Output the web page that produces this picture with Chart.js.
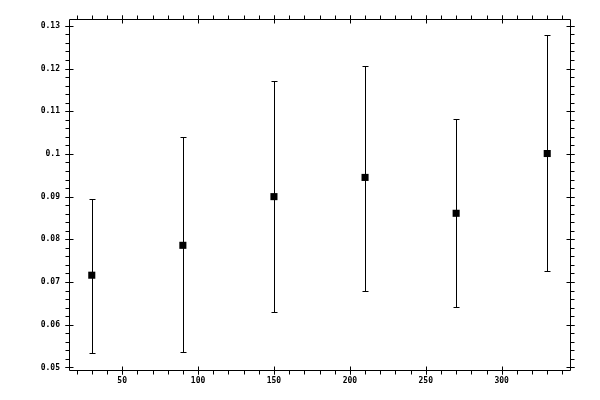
<!DOCTYPE html>
<html><head><meta charset="utf-8">
<script src="https://cdn.jsdelivr.net/npm/chart.js@4"></script>
<style>html,body{margin:0;padding:0;background:#fff}canvas{display:block}</style>
</head><body>
<canvas id="c" width="600" height="400"></canvas>
<script>
const xValues = [30, 90, 150, 210, 270, 330];
const yMeans = [0.0716, 0.0786, 0.0900, 0.0945, 0.0861, 0.1001];
const yLows = [0.0533, 0.0535, 0.0629, 0.0680, 0.0641, 0.0727];
const yHighs = [0.0895, 0.1039, 0.1171, 0.1206, 0.1082, 0.1278];
const xTicks = [50, 100, 150, 200, 250, 300];
const xTickLabels = ['50', '100', '150', '200', '250', '300'];
const yTicks = [0.05, 0.06, 0.07, 0.08, 0.09, 0.10, 0.11, 0.12, 0.13];
const yTickLabels = ['0.05', '0.06', '0.07', '0.08', '0.09', '0.1', '0.11', '0.12', '0.13'];
const xMinorStep = 10, yMinorStep = 0.002;
const xRange = [15, 345];
const yRange = [0.0494, 0.1316];

const points = xValues.map((x, i) => ({x: x, y: yMeans[i]}));

const crisp = v => Math.round(v) + 0.5;

const errorBarPlugin = {
  id: 'errorBars',
  beforeDatasetsDraw(chart) {
    const ctx = chart.ctx, xs = chart.scales.x, ys = chart.scales.y;
    ctx.save();
    ctx.strokeStyle = '#000';
    ctx.lineWidth = 1;
    ctx.beginPath();
    xValues.forEach((xv, i) => {
      const px = crisp(xs.getPixelForValue(xv));
      const pLo = crisp(ys.getPixelForValue(yLows[i]));
      const pHi = crisp(ys.getPixelForValue(yHighs[i]));
      ctx.moveTo(px, pLo); ctx.lineTo(px, pHi);
      ctx.moveTo(px - 3, pLo); ctx.lineTo(px + 3, pLo);
      ctx.moveTo(px - 3, pHi); ctx.lineTo(px + 3, pHi);
    });
    ctx.stroke();
    ctx.restore();
  }
};

const framePlugin = {
  id: 'frameTicks',
  afterDraw(chart) {
    const ctx = chart.ctx, a = chart.chartArea, xs = chart.scales.x, ys = chart.scales.y;
    const L = crisp(a.left), R = crisp(a.right), T = crisp(a.top), B = crisp(a.bottom);
    ctx.save();
    ctx.strokeStyle = '#000';
    ctx.lineWidth = 1;
    ctx.beginPath();
    ctx.rect(L, T, R - L, B - T);
    const out = 4, inn = 4;
    for (let v = Math.ceil(xRange[0] / xMinorStep) * xMinorStep; v <= xRange[1]; v += xMinorStep) {
      const p = crisp(xs.getPixelForValue(v));
      ctx.moveTo(p, B); ctx.lineTo(p, B + out);
      ctx.moveTo(p, T); ctx.lineTo(p, T - out);
    }
    xTicks.forEach(v => {
      const p = crisp(xs.getPixelForValue(v));
      ctx.moveTo(p, B - inn); ctx.lineTo(p, B + out);
      ctx.moveTo(p, T + inn); ctx.lineTo(p, T - out);
    });
    for (let k = Math.ceil(yRange[0] / yMinorStep - 1e-9); k * yMinorStep <= yRange[1] + 1e-12; k++) {
      const p = crisp(ys.getPixelForValue(k * yMinorStep));
      ctx.moveTo(L, p); ctx.lineTo(L - out, p);
      ctx.moveTo(R, p); ctx.lineTo(R + out, p);
    }
    yTicks.forEach(v => {
      const p = crisp(ys.getPixelForValue(v));
      ctx.moveTo(L + inn, p); ctx.lineTo(L - out, p);
      ctx.moveTo(R - inn, p); ctx.lineTo(R + out, p);
    });
    ctx.stroke();
    ctx.restore();
  }
};

const tickFont = {family: "'DejaVu Sans Mono', monospace", size: 8, weight: 'bold'};

new Chart(document.getElementById('c'), {
  type: 'scatter',
  data: {
    datasets: [{
      data: points,
      pointStyle: 'rect',
      pointRadius: 5,
      pointHoverRadius: 5,
      pointBorderWidth: 0,
      backgroundColor: '#000',
      borderColor: '#000',
      showLine: false
    }]
  },
  options: {
    responsive: false,
    devicePixelRatio: 1,
    animation: false,
    events: [],
    layout: {padding: {left: 0, top: 19, right: 30, bottom: 0}},
    plugins: {legend: {display: false}, tooltip: {enabled: false}},
    scales: {
      x: {
        type: 'linear',
        min: xRange[0], max: xRange[1],
        grid: {display: false, drawTicks: false, tickLength: 0},
        border: {display: false},
        afterBuildTicks(s) { s.ticks = xTicks.map(v => ({value: v})); },
        afterFit(s) { s.height = 30; },
        ticks: {
          color: '#000', font: tickFont, padding: 6, maxRotation: 0, autoSkip: false,
          callback: (v, i) => xTickLabels[i]
        }
      },
      y: {
        type: 'linear',
        min: yRange[0], max: yRange[1],
        grid: {display: false, drawTicks: false, tickLength: 0},
        border: {display: false},
        afterBuildTicks(s) { s.ticks = yTicks.map(v => ({value: v})); },
        afterFit(s) { s.width = 69; },
        ticks: {
          color: '#000', font: tickFont, padding: 9, autoSkip: false,
          callback: (v, i) => yTickLabels[i]
        }
      }
    }
  },
  plugins: [errorBarPlugin, framePlugin]
});
</script>
</body></html>
